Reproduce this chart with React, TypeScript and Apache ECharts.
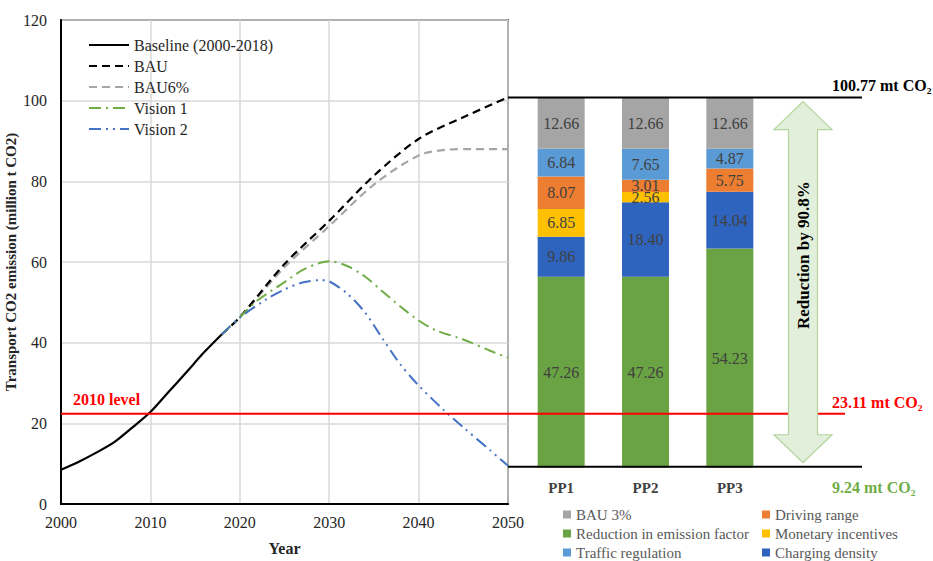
import React, { useEffect, useRef } from "react";
import * as echarts from "echarts";

const FONT = "Liberation Serif";

// ---- line chart data ----
const baselineYears = [2000, 2002, 2004, 2006, 2008, 2010, 2012, 2014, 2016, 2018];
const baselineVals = [8.5, 10.5, 12.8, 15.4, 19.0, 22.8, 27.7, 32.6, 37.6, 42.1];
const bauYears = [2018, 2020, 2025, 2030, 2035, 2040, 2045, 2050];
const bauVals = [42.1, 46.3, 59.5, 70.2, 81.4, 90.5, 95.9, 100.8];
const bau6Years = [2018, 2020, 2025, 2030, 2035, 2040, 2043, 2046, 2050];
const bau6Vals = [42.1, 46.3, 58.7, 68.9, 79.2, 86.4, 87.8, 88, 88];
const v1Years = [2018, 2020, 2022, 2025, 2027, 2029, 2030, 2032, 2034, 2036, 2038, 2040, 2042, 2045, 2048, 2050];
const v1Vals = [42.1, 46.3, 50.5, 55.0, 58.0, 59.8, 60.2, 59.0, 56.4, 52.6, 48.9, 45.5, 43.0, 40.8, 38.0, 36.3];
const v2Years = [2018, 2020, 2023, 2025, 2027, 2029, 2030, 2032, 2034, 2036, 2038, 2040, 2043, 2045, 2048, 2050];
const v2Vals = [42.1, 46.2, 50.8, 53.2, 54.9, 55.5, 55.2, 52.2, 47.5, 40.9, 34.5, 29.4, 22.9, 19.0, 13.3, 9.5];

// ---- bar chart data ----
const categories = ["PP1", "PP2", "PP3"];
const baseVals = [9.24, 9.24, 9.24];
const efVals = [47.26, 47.26, 54.23];
const chargingVals = [9.86, 18.4, 14.04];
const monetaryVals = [6.85, 2.56, 0];
const drivingVals = [8.07, 3.01, 5.75];
const trafficVals = [6.84, 7.65, 4.87];
const bau3Vals = [12.66, 12.66, 12.66];

const topLevel = 100.77;
const bottomLevel = 9.24;
const level2010Line = 22.4;
const topLabel = "100.77 mt CO\u2082";
const level2010Label = "23.11 mt CO\u2082";
const bottomLabel = "9.24 mt CO\u2082";

const zip = (xs: number[], ys: number[]) => xs.map((x, i) => [x, ys[i]]);

export default function App() {
  const ref = useRef<HTMLDivElement>(null);
  useEffect(() => {
    if (!ref.current) return;
    const chart = echarts.init(ref.current, null, { renderer: "svg" });
    const gTop = 20;
    const gH = 485;
    const h1 = (gH * (120 - bottomLevel)) / 120;

    const lineSeries = (name: string, xs: number[], ys: number[], color: string, type: any, width = 2) => ({
      name,
      type: "line",
      xAxisIndex: 0,
      yAxisIndex: 0,
      data: zip(xs, ys),
      symbol: "none",
      smooth: 0.3,
      lineStyle: { color, width, type },
      itemStyle: { color },
      z: 3,
    });

    const barLabel = {
      show: true,
      position: "inside",
      color: "#404040",
      fontSize: 16,
      fontFamily: FONT,
      formatter: (p: any) => (p.value ? Number(p.value).toFixed(2) : ""),
    };
    const barSeries = (name: string, data: number[], color: string) => ({
      name,
      type: "bar",
      stack: "pp",
      xAxisIndex: 1,
      yAxisIndex: 1,
      data,
      barWidth: 47,
      itemStyle: { color },
      label: barLabel,
    });

    const barLegend = (data: string[], left: number) => ({
      data,
      orient: "vertical",
      left,
      top: 507,
      padding: 0,
      height: 60,
      icon: "rect",
      itemWidth: 8,
      itemHeight: 8,
      itemGap: 4,
      textStyle: { fontSize: 15, color: "#595959", fontFamily: FONT },
    });

    const option: any = {
      animation: false,
      backgroundColor: "#ffffff",
      textStyle: { fontFamily: FONT },
      grid: [
        { left: 61, top: gTop, width: 447, height: gH, show: true, borderColor: "#000", borderWidth: 1.5 },
        { left: 519, top: gTop, width: 253, height: h1 },
      ],
      xAxis: [
        {
          type: "value",
          gridIndex: 0,
          min: 2000,
          max: 2050,
          interval: 10,
          axisLine: { lineStyle: { color: "#000", width: 2 } },
          axisTick: { show: false },
          splitLine: { show: true, lineStyle: { color: "#d9d9d9", width: 1.5 } },
          axisLabel: { color: "#262626", fontSize: 16, fontFamily: FONT, margin: 10, formatter: (v: number) => String(v) },
          name: "Year",
          nameLocation: "middle",
          nameGap: 36,
          nameTextStyle: { fontWeight: "bold", fontSize: 16, color: "#262626", fontFamily: FONT },
        },
        {
          type: "category",
          gridIndex: 1,
          data: categories,
          axisLine: { show: false },
          axisTick: { show: false },
          axisLabel: { fontWeight: "bold", fontSize: 15, color: "#404040", fontFamily: FONT, margin: 13 },
        },
      ],
      yAxis: [
        {
          type: "value",
          gridIndex: 0,
          min: 0,
          max: 120,
          interval: 20,
          axisLine: { show: true, lineStyle: { color: "#000", width: 2 } },
          axisTick: { show: false },
          splitLine: { show: true, lineStyle: { color: "#d9d9d9", width: 1.5 } },
          axisLabel: { color: "#262626", fontSize: 16, fontFamily: FONT, margin: 14 },
          name: "Transport CO2 emission (million t CO2)",
          nameLocation: "middle",
          nameGap: 43,
          nameTextStyle: { fontWeight: "bold", fontSize: 15, color: "#262626", fontFamily: FONT },
        },
        { type: "value", gridIndex: 1, min: bottomLevel, max: 120, show: false },
      ],
      legend: [
        {
          data: ["Baseline (2000-2018)", "BAU", "BAU6%", "Vision 1", "Vision 2"],
          orient: "vertical",
          left: 88,
          top: 37,
          padding: 0,
          itemWidth: 40,
          itemHeight: 14,
          itemGap: 5,
          itemStyle: { opacity: 0 },
          textStyle: { fontSize: 16, color: "#262626", fontFamily: FONT },
        },
        barLegend(["BAU 3%", "Reduction in emission factor", "Traffic regulation"], 563),
        barLegend(["Driving range", "Monetary incentives", "Charging density"], 762),
      ],
      series: [
        lineSeries("Baseline (2000-2018)", baselineYears, baselineVals, "#000000", "solid", 2.2),
        lineSeries("BAU6%", bau6Years, bau6Vals, "#a6a6a6", [8, 5], 2.2),
        lineSeries("BAU", bauYears, bauVals, "#000000", [8, 5], 2.2),
        lineSeries("Vision 1", v1Years, v1Vals, "#70ad47", [12, 5, 2, 5], 2),
        lineSeries("Vision 2", v2Years, v2Vals, "#4472c4", [12, 5, 2, 5, 2, 5], 2),
        {
          name: "base",
          type: "bar",
          stack: "pp",
          xAxisIndex: 1,
          yAxisIndex: 1,
          data: baseVals,
          barWidth: 47,
          itemStyle: { color: "transparent" },
          silent: true,
        },
        barSeries("Reduction in emission factor", efVals, "#6aa343"),
        barSeries("Charging density", chargingVals, "#2e64bd"),
        barSeries("Monetary incentives", monetaryVals, "#ffc000"),
        barSeries("Driving range", drivingVals, "#ed7d31"),
        barSeries("Traffic regulation", trafficVals, "#5b9bd5"),
        barSeries("BAU 3%", bau3Vals, "#a5a5a5"),
      ],
    };
    chart.setOption(option);

    const py = (v: number) => chart.convertToPixel({ yAxisIndex: 0 }, v) as number;
    const px = (v: number) => chart.convertToPixel({ xAxisIndex: 0 }, v) as number;
    const yT = py(topLevel);
    const yB = py(bottomLevel);
    const yR = py(level2010Line);
    const xL = px(2000);
    const xR = px(2050);
    const lineEnd = 862;
    const redEnd = 845;

    const cx = 803;
    const tipT = yT + 4;
    const tipB = yB - 4;
    const hw = 29;
    const sw = 14.5;
    const hh = 28;
    const arrowPts = [
      [cx, tipT],
      [cx + hw, tipT + hh],
      [cx + sw, tipT + hh],
      [cx + sw, tipB - hh],
      [cx + hw, tipB - hh],
      [cx, tipB],
      [cx - hw, tipB - hh],
      [cx - sw, tipB - hh],
      [cx - sw, tipT + hh],
      [cx - hw, tipT + hh],
    ];

    const txt = (text: string, x: number, y: number, fill: string, extra: any = {}) => ({
      type: "text",
      x,
      y,
      z: 10,
      style: {
        text,
        fill,
        fontFamily: FONT,
        fontSize: 16,
        fontWeight: "bold",
        align: "left",
        verticalAlign: "middle",
        ...extra,
      },
    });

    chart.setOption({
      graphic: [
        {
          type: "line",
          z: 5,
          shape: { x1: xL, y1: yR, x2: redEnd, y2: yR },
          style: { stroke: "#ff0000", lineWidth: 2 },
        },
        {
          type: "line",
          z: 5,
          shape: { x1: xR, y1: yT, x2: lineEnd, y2: yT },
          style: { stroke: "#000000", lineWidth: 2 },
        },
        {
          type: "line",
          z: 5,
          shape: { x1: xR, y1: yB, x2: lineEnd, y2: yB },
          style: { stroke: "#000000", lineWidth: 2 },
        },
        {
          type: "polygon",
          z: 6,
          shape: { points: arrowPts },
          style: { fill: "#e2efda", stroke: "#b4d49c", lineWidth: 1.2 },
        },
        {
          type: "text",
          x: cx,
          y: (yT + yB) / 2 - 27,
          rotation: Math.PI / 2,
          z: 10,
          style: {
            text: "Reduction by 90.8%",
            fill: "#000",
            fontFamily: FONT,
            fontSize: 17,
            fontWeight: "bold",
            align: "center",
            verticalAlign: "middle",
          },
        },
        txt("2010 level", 73, yR - 14, "#ff0000"),
        txt(topLabel, 832, yT - 12, "#000000"),
        txt(level2010Label, 832, yR - 11, "#ff0000"),
        txt(bottomLabel, 832, yB + 21, "#70ad47"),
      ],
    });

    return () => chart.dispose();
  }, []);
  return <div ref={ref} style={{ position: "absolute", left: 0, top: 0, width: 933, height: 561 }} />;
}
